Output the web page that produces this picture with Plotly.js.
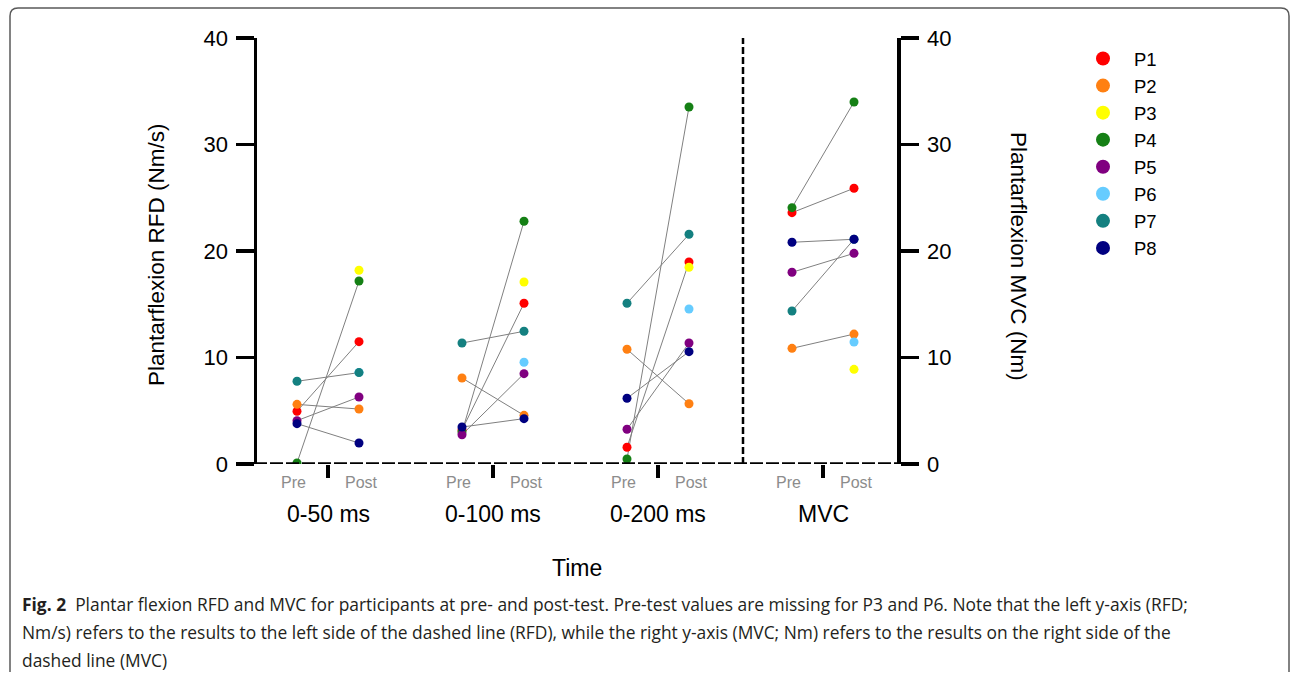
<!DOCTYPE html>
<html>
<head>
<meta charset="utf-8">
<script src="https://cdn.plot.ly/plotly-3.0.1.min.js"></script>
<style>html,body{margin:0;padding:0;background:#fff;}#chart{width:1292px;height:676px;}</style>
</head>
<body>
<div id="chart"></div>
<script>
// ---------- data ----------
const participants = ['P1','P2','P3','P4','P5','P6','P7','P8'];
const colors = ['#FF0000','#FF8012','#FFFF00','#158015','#800080','#66CCFF','#148080','#000080'];
const groups = ['0-50 ms','0-100 ms','0-200 ms','MVC'];
const phaseLabels = ['Pre','Post'];

const rfd50Pre   = [4.95, 5.6,  null, 0.1,  4.07, null, 7.77, 3.79];
const rfd50Post  = [11.49,5.16, 18.19,17.18,6.29, 8.6,  8.58, 1.97];
const rfd100Pre  = [3.2,  8.08, null, 3.0,  2.75, null, 11.36,3.47];
const rfd100Post = [15.09,4.57, 17.09,22.79,8.48, 9.55, 12.46,4.26];
const rfd200Pre  = [1.57, 10.77,null, 0.47, 3.26, null, 15.09,6.17];
const rfd200Post = [18.97,5.66, 18.47,33.52,11.36,14.55,21.57,10.55];
const mvcPre     = [23.6, 10.86,null, 24.07,18.0, null, 14.37,20.82];
const mvcPost    = [25.89,12.2, 8.89, 33.99,19.78,11.46,21.1, 21.1];

const yTicks = [0,10,20,30,40];

// ---------- layout helpers ----------
const W = 1292, H = 676;
const L = 257, R = 897, T = 38, B = 464;
const px = v => (v - L) / (R - L);       // pixel x -> paper
const py = v => (B - v) / (B - T);       // pixel y -> paper
const groupStep = 165, preOff = 40, postOff = 102;
const preX = g => g * groupStep + preOff;
const postX = g => g * groupStep + postOff;
const midX = g => (preX(g) + postX(g)) / 2;

const pairs = [[rfd50Pre, rfd50Post],[rfd100Pre, rfd100Post],[rfd200Pre, rfd200Post],[mvcPre, mvcPost]];

const traces = [];
pairs.forEach((pr, g) => {
  const xs = [], ys = [];
  participants.forEach((p, i) => {
    if (pr[0][i] !== null && pr[1][i] !== null) {
      xs.push(preX(g), postX(g), null);
      ys.push(pr[0][i], pr[1][i], null);
    }
  });
  traces.push({x: xs, y: ys, mode: 'lines', type: 'scatter',
    line: {color: '#808080', width: 1}, showlegend: false, hoverinfo: 'skip',
    yaxis: g === 3 ? 'y2' : 'y', connectgaps: false});
});
participants.forEach((p, i) => {
  const rx = [], ry = [];
  for (let g = 0; g < 3; g++) {
    rx.push(preX(g), postX(g));
    ry.push(pairs[g][0][i], pairs[g][1][i]);
  }
  traces.push({x: rx, y: ry, mode: 'markers', type: 'scatter', name: p,
    marker: {color: colors[i], size: 9}, showlegend: false});
  traces.push({x: [preX(3), postX(3)], y: [mvcPre[i], mvcPost[i]], mode: 'markers', type: 'scatter', name: p,
    marker: {color: colors[i], size: 9}, yaxis: 'y2', showlegend: false});
});
participants.forEach((p, i) => {
  traces.push({x: [null], y: [null], mode: 'markers', type: 'scatter', name: p,
    marker: {color: colors[i], size: 14}, showlegend: true});
});

const baseFont = 'Arial, Liberation Sans, sans-serif';
const annotations = [];
groups.forEach((gname, g) => {
  annotations.push({x: preX(g) - 4, y: py(482), xref: 'x', yref: 'paper', text: phaseLabels[0],
    showarrow: false, font: {family: baseFont, size: 16, color: '#8c8c8c'}, xanchor: 'center', yanchor: 'middle'});
  annotations.push({x: postX(g) + 2, y: py(482), xref: 'x', yref: 'paper', text: phaseLabels[1],
    showarrow: false, font: {family: baseFont, size: 16, color: '#8c8c8c'}, xanchor: 'center', yanchor: 'middle'});
  annotations.push({x: midX(g), y: py(514), xref: 'x', yref: 'paper', text: gname,
    showarrow: false, font: {family: baseFont, size: 23, color: '#000'}, xanchor: 'center', yanchor: 'middle'});
});
annotations.push({x: px(577), y: py(568), xref: 'paper', yref: 'paper', text: 'Time',
  showarrow: false, font: {family: baseFont, size: 23, color: '#000'}, xanchor: 'center', yanchor: 'middle'});
annotations.push({x: px(156), y: py(255), xref: 'paper', yref: 'paper', text: 'Plantarflexion RFD (Nm/s)',
  textangle: -90, showarrow: false, font: {family: baseFont, size: 22.5, color: '#000'}, xanchor: 'center', yanchor: 'middle'});
annotations.push({x: px(1019), y: py(256), xref: 'paper', yref: 'paper', text: 'Plantarflexion MVC (Nm)',
  textangle: 90, showarrow: false, font: {family: baseFont, size: 22.5, color: '#000'}, xanchor: 'center', yanchor: 'middle'});

const capFont = {family: 'Open Sans, sans-serif', size: 17.4, color: '#231f20'};
const capLines = [
  '<b>Fig. 2</b>  Plantar flexion RFD and MVC for participants at pre- and post-test. Pre-test values are missing for P3 and P6. Note that the left y-axis (RFD;',
  'Nm/s) refers to the results to the left side of the dashed line (RFD), while the right y-axis (MVC; Nm) refers to the results on the right side of the',
  'dashed line (MVC)'
];
[604, 632, 660].forEach((yy, k) => {
  annotations.push({x: px(20), y: py(yy), xref: 'paper', yref: 'paper', text: capLines[k],
    showarrow: false, font: capFont, xanchor: 'left', yanchor: 'middle', align: 'left'});
});

const r = 8, bl = 10, bt = 8, br = 1289, bb = 672;
const shapes = [
  {type: 'line', xref: 'paper', yref: 'y', x0: px(238), x1: px(918), y0: 0, y1: 0,
    line: {color: '#000', width: 3.5, dash: '13px,3px'}},
  {type: 'line', xref: 'paper', yref: 'y', x0: px(743), x1: px(743), y0: 0, y1: 40,
    line: {color: '#000', width: 2.5, dash: '7px,3px'}},
  {type: 'path', xref: 'paper', yref: 'paper',
    path: `M ${px(bl)},${py(bb)} L ${px(bl)},${py(bt + r)} Q ${px(bl)},${py(bt)} ${px(bl + r)},${py(bt)} L ${px(br - r)},${py(bt)} Q ${px(br)},${py(bt)} ${px(br)},${py(bt + r)} L ${px(br)},${py(bb)}`,
    line: {color: '#5a5a5a', width: 1.5}}
];

const axisFont = {family: baseFont, size: 22, color: '#000'};
const layout = {
  width: W, height: H,
  margin: {l: L, r: W - R, t: T, b: H - B},
  paper_bgcolor: '#fff', plot_bgcolor: '#fff',
  font: {family: baseFont, color: '#000'},
  showlegend: true,
  legend: {x: px(1072), y: py(40), xanchor: 'left', yanchor: 'top', font: {family: baseFont, size: 18.5, color: '#000'},
    bgcolor: 'rgba(0,0,0,0)', tracegroupgap: 0, itemwidth: 52},
  xaxis: {range: [0, 640], showgrid: false, zeroline: false, showline: false,
    tickmode: 'array', tickvals: groups.map((_, g) => midX(g)), ticktext: groups.map(() => ''),
    ticks: 'outside', ticklen: 13, tickwidth: 3.5, tickcolor: '#000', fixedrange: true},
  yaxis: {range: [0, 40], showgrid: false, zeroline: false, showline: true, linewidth: 3.5, linecolor: '#000',
    tickmode: 'array', tickvals: yTicks, ticks: 'outside', ticklen: 18, tickwidth: 3.5, tickcolor: '#000',
    tickfont: axisFont, ticklabelstandoff: 3},
  yaxis2: {range: [0, 40], overlaying: 'y', side: 'right', showgrid: false, zeroline: false, showline: true,
    linewidth: 3.5, linecolor: '#000', tickmode: 'array', tickvals: yTicks, ticks: 'outside', ticklen: 18,
    tickwidth: 3.5, tickcolor: '#000', tickfont: axisFont, ticklabelstandoff: 4},
  annotations: annotations,
  shapes: shapes
};

Plotly.newPlot('chart', traces, layout, {displayModeBar: false, staticPlot: true});
</script>
</body>
</html>
